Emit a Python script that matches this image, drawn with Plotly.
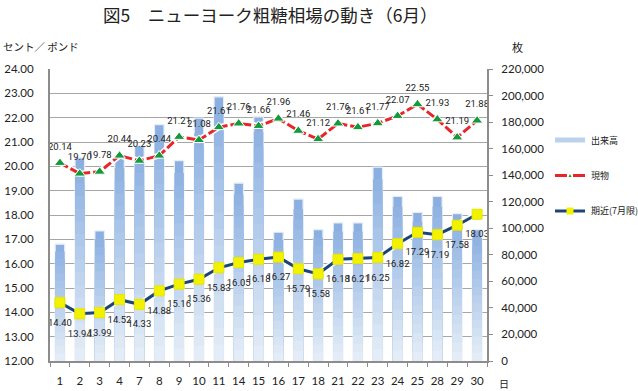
import plotly.graph_objects as go

days = ["1", "2", "3", "4", "7", "8", "9", "10", "11", "14", "15", "16", "17", "18",
        "21", "22", "23", "24", "25", "28", "29", "30"]
volume = [88000, 153000, 98000, 155000, 162000, 178000, 151000, 183000, 199000, 134000,
          184000, 97000, 122000, 99000, 104000, 104000, 146000, 124000, 112000, 124000,
          111000, 99000]
spot = [20.14, 19.70, 19.78, 20.44, 20.23, 20.44, 21.21, 21.08, 21.61, 21.76, 21.66,
        21.96, 21.46, 21.12, 21.76, 21.61, 21.77, 22.07, 22.55, 21.93, 21.19, 21.88]
nearby = [14.40, 13.94, 13.99, 14.52, 14.33, 14.88, 15.16, 15.36, 15.83, 16.05, 16.18,
          16.27, 15.79, 15.58, 16.18, 16.21, 16.25, 16.82, 17.29, 17.19, 17.58, 18.03]
names = ["出来高", "現物", "期近(7月限)"]

# plot area in pixels
L, R, T, B = 50, 487, 69, 361
W, H = R - L, B - T


def px(x):
    return (x - L) / W


def py(y):
    return (B - y) / H


fig = go.Figure()

# gradient bars (volume), drawn as overlaid fractions of each bar
top_rgb = (138, 175, 224)
bot_rgb = (228, 237, 247)
N = 16
for k in range(N):
    f = 1 - k / N
    t = k / (N - 1)
    c = tuple(round(top_rgb[i] + (bot_rgb[i] - top_rgb[i]) * t) for i in range(3))
    fig.add_trace(go.Bar(
        x=days, y=[v * f for v in volume], yaxis="y",
        marker=dict(color="rgb(%d,%d,%d)" % c,
                    line=dict(color="#e6eef8" if k == 0 else "rgba(0,0,0,0)", width=1.2 if k == 0 else 0)),
        showlegend=False, hoverinfo="skip" if k else None, name=names[0]))

label_font = dict(size=9.5, color="#222", family="Liberation Sans Narrow, Roboto, sans-serif")

RED, GREEN, NAVY, YELLOW = "#e8262a", "#14993c", "#1b4478", "#f2f200"

# white halos under lines
fig.add_trace(go.Scatter(x=days, y=spot, yaxis="y2", mode="lines", showlegend=False,
                         line=dict(color="white", width=6), hoverinfo="skip"))
fig.add_trace(go.Scatter(x=days, y=spot, yaxis="y2", mode="lines+markers", name=names[1],
                         line=dict(color=RED, width=3, dash="9px,3px"),
                         marker=dict(symbol="triangle-up", size=10, color=GREEN,
                                     line=dict(color="white", width=1)),
                         showlegend=False))
fig.add_trace(go.Scatter(x=days, y=nearby, yaxis="y2", mode="lines", showlegend=False,
                         line=dict(color="white", width=6), hoverinfo="skip"))
fig.add_trace(go.Scatter(x=days, y=nearby, yaxis="y2", mode="lines+markers", name=names[2],
                         line=dict(color=NAVY, width=3),
                         marker=dict(symbol="square", size=10, color=YELLOW,
                                     line=dict(color="#e6e600", width=1)),
                         showlegend=False))
# data labels (invisible markers set the label offset)
fig.add_trace(go.Scatter(x=days, y=spot, yaxis="y2", mode="markers+text", showlegend=False,
                         marker=dict(size=16, opacity=0), hoverinfo="skip",
                         text=["%.2f" % v for v in spot], textposition="top center",
                         textfont=label_font))
fig.add_trace(go.Scatter(x=days, y=nearby, yaxis="y2", mode="markers+text", showlegend=False,
                         marker=dict(size=24, opacity=0), hoverinfo="skip",
                         text=["%.2f" % v for v in nearby], textposition="bottom center",
                         textfont=label_font))

axis_col = "#8c8c8c"
cjk = "Noto Sans CJK JP"

# legend drawn as shapes + text
leg_y = [140, 175.5, 211]
shapes = [
    dict(type="line", xref="paper", yref="paper", x0=px(555), x1=px(585), y0=py(leg_y[0]), y1=py(leg_y[0]),
         line=dict(color="#bcd2ec", width=5)),
    dict(type="line", xref="paper", yref="paper", x0=px(555), x1=px(567), y0=py(leg_y[1]), y1=py(leg_y[1]),
         line=dict(color=RED, width=3)),
    dict(type="line", xref="paper", yref="paper", x0=px(573), x1=px(585), y0=py(leg_y[1]), y1=py(leg_y[1]),
         line=dict(color=RED, width=3)),
    dict(type="path", xref="paper", yref="paper",
         path="M %f %f L %f %f L %f %f Z" % (px(568.5), py(leg_y[1] + 1.5), px(571.5), py(leg_y[1] + 1.5),
                                            px(570), py(leg_y[1] - 1.5)),
         fillcolor=GREEN, line=dict(width=0)),
    dict(type="line", xref="paper", yref="paper", x0=px(555), x1=px(585), y0=py(leg_y[2]), y1=py(leg_y[2]),
         line=dict(color=NAVY, width=3)),
    dict(type="rect", xref="paper", yref="paper", x0=px(566.5), x1=px(573.5), y0=py(leg_y[2] + 3.5),
         y1=py(leg_y[2] - 3.5), fillcolor=YELLOW, line=dict(width=0)),
]

annotations = [
    dict(text="図5　ニューヨーク粗糖相場の動き（6月）", xref="paper", yref="paper", x=px(270), y=py(14),
         xanchor="center", yanchor="middle", showarrow=False,
         font=dict(family=cjk, size=17.5, color="#222")),
    dict(text="セント／ ポンド", xref="paper", yref="paper", x=px(1), y=py(47),
         xanchor="left", yanchor="middle", showarrow=False,
         font=dict(family=cjk, size=10.5, color="#222")),
    dict(text="枚", xref="paper", yref="paper", x=px(517), y=py(47),
         xanchor="center", yanchor="middle", showarrow=False,
         font=dict(family=cjk, size=11, color="#222")),
    dict(text="日", xref="paper", yref="paper", x=px(504), y=py(383),
         xanchor="center", yanchor="middle", showarrow=False,
         font=dict(family=cjk, size=10, color="#222")),
]
for nm, yy in zip(names, leg_y):
    annotations.append(dict(text=nm, xref="paper", yref="paper", x=px(589), y=py(yy),
                            xanchor="left", yanchor="middle", showarrow=False,
                            font=dict(family=cjk, size=9, color="#222")))

fig.update_layout(
    width=638, height=391,
    margin=dict(l=L, r=638 - R, t=T, b=391 - B),
    paper_bgcolor="white", plot_bgcolor="white",
    barmode="overlay", bargap=0.52, showlegend=False,
    font=dict(family="Lato, Open Sans, sans-serif", size=11.5, color="#222"),
    xaxis=dict(type="category", range=[-0.5, len(days) - 0.5], autorange=False,
               showline=True, linecolor=axis_col, linewidth=2,
               ticks="outside", tickson="boundaries", ticklen=4, tickcolor=axis_col,
               showgrid=False, ticklabelstandoff=8, tickangle=0, automargin=False,
               tickfont=dict(size=11.5)),
    yaxis=dict(side="right", range=[0, 220000], dtick=20000, tickformat=",",
               showgrid=False, showline=True, linecolor=axis_col, linewidth=2,
               ticks="outside", ticklen=4, tickcolor=axis_col, zeroline=False,
               ticklabelstandoff=6, automargin=False),
    yaxis2=dict(side="left", overlaying="y", range=[12, 24], dtick=1, tickformat=".2f",
                showgrid=True, gridcolor="#a6a6a6", gridwidth=1.2,
                showline=True, linecolor=axis_col, linewidth=2, zeroline=False,
                ticks="", ticklabelstandoff=12, automargin=False),
    shapes=shapes,
    annotations=annotations,
)

fig.write_html("out.html", config={"displayModeBar": False},
               post_script="document.body.style.margin='0';document.body.style.padding='0';")
